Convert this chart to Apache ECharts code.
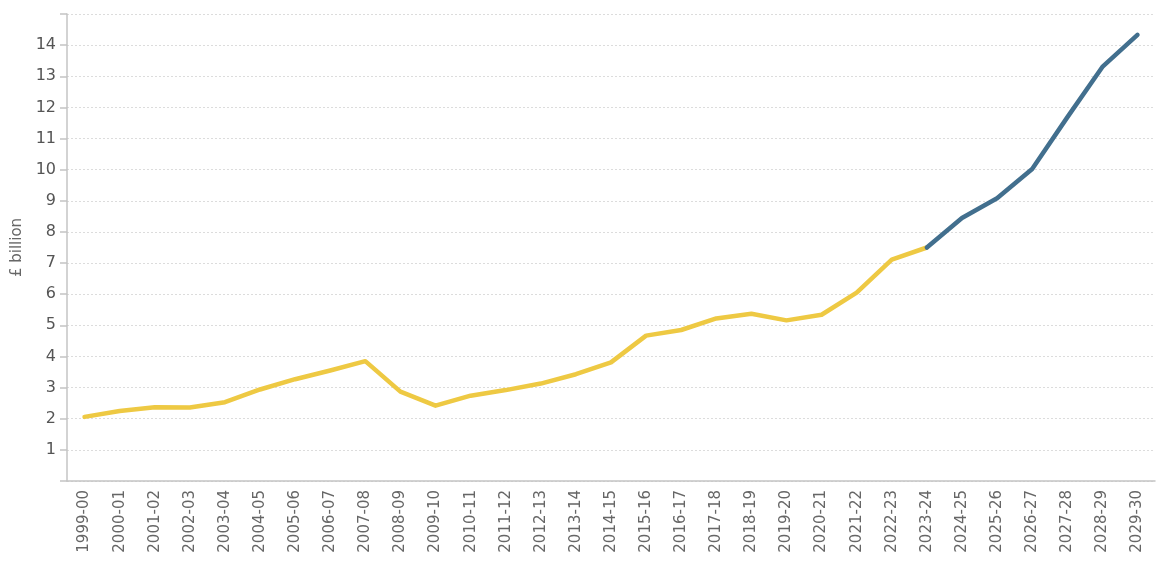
<!DOCTYPE html>
<html>
<head>
<meta charset="utf-8">
<script src="https://cdn.jsdelivr.net/npm/echarts@6/dist/echarts.min.js"></script>
<style>
  html, body { margin: 0; padding: 0; background: #fff; }
  #chart { width: 1160px; height: 572px; }
</style>
</head>
<body>
<div id="chart"></div>
<script>
// financial years on the x axis
const years = [
  '1999-00', '2000-01', '2001-02', '2002-03', '2003-04', '2004-05', '2005-06',
  '2006-07', '2007-08', '2008-09', '2009-10', '2010-11', '2011-12', '2012-13',
  '2013-14', '2014-15', '2015-16', '2016-17', '2017-18', '2018-19', '2019-20',
  '2020-21', '2021-22', '2022-23', '2023-24', '2024-25', '2025-26', '2026-27',
  '2027-28', '2028-29', '2029-30',
]
// outturn, £ billion (ends 2023-24)
const outturn = [
  2.06, 2.25, 2.37, 2.36, 2.53, 2.94, 3.27, 3.55, 3.85, 2.87, 2.42, 2.74,
  2.92, 3.13, 3.43, 3.81, 4.67, 4.85, 5.22, 5.37, 5.16, 5.34, 6.05, 7.11, 7.5,
]
// forecast, £ billion (starts 2023-24)
const forecast = [7.5, 8.45, 9.08, 10.02, 11.68, 13.3, 14.33]

const outturnData = years.map((y, i) => (i < outturn.length ? outturn[i] : null))
const forecastStart = years.length - forecast.length
const forecastData = years.map((y, i) => (i >= forecastStart ? forecast[i - forecastStart] : null))

const font = 'DejaVu Sans'

const chart = echarts.init(document.getElementById('chart'))
chart.setOption({
  animation: false,
  grid: { left: 67, right: 5, top: 14, bottom: 91, outerBoundsMode: 'none' },
  xAxis: {
    type: 'category',
    data: years,
    boundaryGap: true,
    axisLine: { lineStyle: { color: '#c4c4c4', width: 1.5 } },
    axisTick: { length: 6, lineStyle: { color: '#c4c4c4', width: 1.5 } },
    axisLabel: {
      rotate: 90,
      margin: 9,
      interval: 0,
      color: '#666',
      fontFamily: font,
      fontSize: 15,
    },
  },
  yAxis: {
    type: 'value',
    min: 0,
    max: 15,
    interval: 1,
    name: '£ billion',
    nameLocation: 'middle',
    nameGap: 42,
    nameTextStyle: { color: '#666', fontFamily: font, fontSize: 15 },
    axisLine: { show: true, lineStyle: { color: '#c4c4c4', width: 1.5 } },
    axisTick: { show: true, length: 7, lineStyle: { color: '#c4c4c4', width: 1.5 } },
    axisLabel: {
      margin: 11,
      color: '#555',
      fontFamily: font,
      fontSize: 16,
      formatter: (v) => (v === 0 || v === 15 ? '' : String(v)),
    },
    splitLine: { lineStyle: { color: '#dcdcdc', type: [2, 2], width: 1 } },
  },
  series: [
    {
      name: 'Outturn',
      type: 'line',
      data: outturnData,
      symbol: 'none',
      lineStyle: { color: '#eec943', width: 4.5, cap: 'round', join: 'round' },
    },
    {
      name: 'Forecast',
      type: 'line',
      data: forecastData,
      symbol: 'none',
      lineStyle: { color: '#426f8e', width: 4.5, cap: 'round', join: 'round' },
    },
  ],
})
</script>
</body>
</html>
